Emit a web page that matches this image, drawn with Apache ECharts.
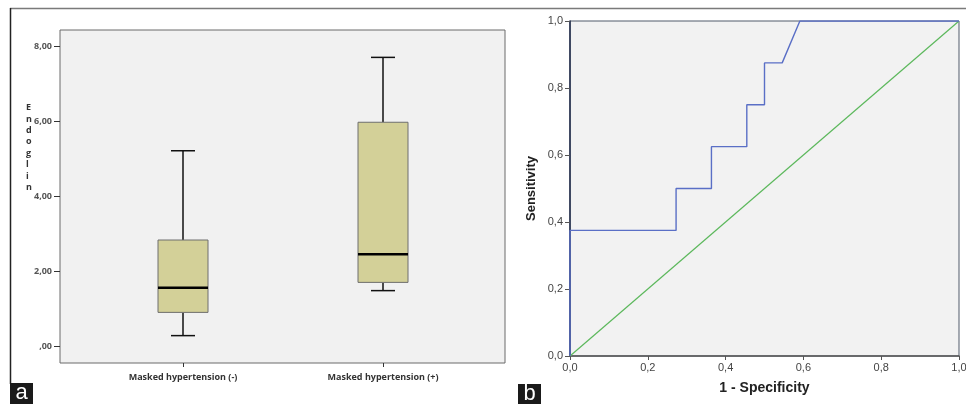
<!DOCTYPE html>
<html>
<head>
<meta charset="utf-8">
<script src="https://cdn.jsdelivr.net/npm/echarts@6/dist/echarts.min.js"></script>
<style>
  html, body { margin: 0; padding: 0; background: #ffffff; }
  #chart { width: 966px; height: 404px; }
</style>
</head>
<body>
<div id="chart"></div>
<script>
// panel a : Endoglin boxplot
var groups = ['Masked hypertension (-)', 'Masked hypertension (+)'];
var whiskerLow = [0.29, 1.49];
var quart1 = [0.91, 1.71];
var medians = [1.57, 2.46];
var quart3 = [2.84, 5.98];
var whiskerHigh = [5.22, 7.71];
var endoglinTicks = [0, 2, 4, 6, 8];

// panel b : ROC curve
var rocFpr = [0, 0, 0.2727, 0.2727, 0.3636, 0.3636, 0.4545, 0.4545, 0.5, 0.5, 0.5455, 0.5909, 1];
var rocTpr = [0, 0.375, 0.375, 0.5, 0.5, 0.625, 0.625, 0.75, 0.75, 0.875, 0.875, 1, 1];
var refLine = [0, 1];

var chart = echarts.init(document.getElementById('chart'));

var boxData = groups.map(function (g, i) {
  return [i, whiskerLow[i], quart1[i], medians[i], quart3[i], whiskerHigh[i]];
});
var rocData = rocFpr.map(function (x, i) { return [x, rocTpr[i]]; });
var diagData = refLine.map(function (v) { return [v, v]; });

function renderBox(params, api) {
  var idx = api.value(0);
  var lo = api.coord([idx, api.value(1)]);
  var q1 = api.coord([idx, api.value(2)]);
  var med = api.coord([idx, api.value(3)]);
  var q3 = api.coord([idx, api.value(4)]);
  var hi = api.coord([idx, api.value(5)]);
  var half = api.size([1, 0])[0] * 0.125;
  var cap = half * 0.48;
  var x = lo[0];
  var black = { stroke: '#111111', lineWidth: 1.5 };
  return {
    type: 'group',
    children: [
      { type: 'line', shape: { x1: x, y1: hi[1], x2: x, y2: q3[1] }, style: black },
      { type: 'line', shape: { x1: x, y1: q1[1], x2: x, y2: lo[1] }, style: black },
      { type: 'line', shape: { x1: x - cap, y1: hi[1], x2: x + cap, y2: hi[1] }, style: black },
      { type: 'line', shape: { x1: x - cap, y1: lo[1], x2: x + cap, y2: lo[1] }, style: black },
      { type: 'rect', shape: { x: x - half, y: q3[1], width: half * 2, height: q1[1] - q3[1] },
        style: { fill: '#d3d098', stroke: '#6e6e6e', lineWidth: 1 } },
      { type: 'line', shape: { x1: x - half, y1: med[1], x2: x + half, y2: med[1] },
        style: { stroke: '#000000', lineWidth: 2.5 } }
    ]
  };
}

function commaFix(v, d) {
  var s = v.toFixed(d).replace('.', ',');
  if (d === 2 && v === 0) s = ',00';
  return s;
}

var option = {
  animation: false,
  title: {
    text: 'E\nn\nd\no\ng\nl\ni\nn',
    left: 21,
    top: 97,
    textStyle: { fontFamily: 'Open Sans', fontSize: 9, fontWeight: 'bold', color: '#333', lineHeight: 11.4 }
  },
  grid: [
    // frame of panel a
    { left: 60, top: 30, width: 445, height: 333, show: true, outerBoundsMode: 'none',
      backgroundColor: '#f1f1f1', borderColor: '#6a6a6a', borderWidth: 1 },
    // boxplot area
    { left: 83, top: 30, width: 400, height: 333, outerBoundsMode: 'none' },
    // ROC area
    { left: 570, top: 21, width: 389, height: 335, show: true, outerBoundsMode: 'none',
      backgroundColor: '#f2f2f2', borderColor: '#505a6a', borderWidth: 1 }
  ],
  xAxis: [
    {
      gridIndex: 1,
      type: 'category',
      data: groups,
      axisLine: { show: false, onZero: false },
      axisTick: { show: true, alignWithLabel: true, length: 4, lineStyle: { color: '#333' } },
      axisLabel: { fontFamily: 'Open Sans', fontSize: 9, fontWeight: 'bold', color: '#333', margin: 10 }
    },
    {
      gridIndex: 2,
      type: 'value',
      min: 0, max: 1, interval: 0.2,
      name: '1 - Specificity',
      nameLocation: 'middle',
      nameGap: 25,
      nameTextStyle: { fontFamily: 'Liberation Sans', fontSize: 14, fontWeight: 'bold', color: '#222' },
      splitLine: { show: false },
      axisLine: { lineStyle: { color: '#555', width: 1.5 } },
      axisTick: { length: 4, lineStyle: { color: '#555' } },
      axisLabel: { fontFamily: 'Liberation Sans', fontSize: 11, color: '#444', margin: 6,
        formatter: function (v) { return commaFix(v, 1); } }
    }
  ],
  yAxis: [
    {
      gridIndex: 1,
      type: 'value',
      min: -0.44, max: 8.44,
      offset: 23,
      splitLine: { show: false },
      axisLine: { show: false },
      axisTick: { show: true, length: 6, customValues: endoglinTicks, lineStyle: { color: '#333' } },
      axisLabel: { customValues: endoglinTicks, fontFamily: 'Open Sans', fontSize: 9, fontWeight: 'bold',
        color: '#555', margin: 8, formatter: function (v) { return commaFix(v, 2); } }
    },
    {
      gridIndex: 2,
      type: 'value',
      min: 0, max: 1, interval: 0.2,
      name: 'Sensitivity',
      nameLocation: 'middle',
      nameGap: 32,
      nameTextStyle: { fontFamily: 'Liberation Sans', fontSize: 13, fontWeight: 'bold', color: '#222' },
      splitLine: { show: false },
      axisLine: { lineStyle: { color: '#1f2a48', width: 1.5 } },
      axisTick: { length: 5, lineStyle: { color: '#555' } },
      axisLabel: { fontFamily: 'Liberation Sans', fontSize: 11, color: '#444', margin: 7,
        formatter: function (v) { return commaFix(v, 1); } }
    }
  ],
  series: [
    {
      name: 'Endoglin',
      type: 'custom',
      xAxisIndex: 0,
      yAxisIndex: 0,
      renderItem: renderBox,
      encode: { x: 0, y: [1, 2, 3, 4, 5] },
      data: boxData
    },
    {
      name: 'Reference',
      type: 'line',
      xAxisIndex: 1,
      yAxisIndex: 1,
      showSymbol: false,
      lineStyle: { color: '#5cb85c', width: 1.2 },
      data: diagData
    },
    {
      name: 'ROC',
      type: 'line',
      xAxisIndex: 1,
      yAxisIndex: 1,
      showSymbol: false,
      lineStyle: { color: '#5a6fc6', width: 1.4 },
      data: rocData
    }
  ],
  graphic: [
    { type: 'line', shape: { x1: 10, y1: 8.5, x2: 966, y2: 8.5 }, style: { stroke: '#7a7a7a', lineWidth: 1.5 } },
    { type: 'line', shape: { x1: 10.5, y1: 8, x2: 10.5, y2: 384 }, style: { stroke: '#222', lineWidth: 1.5 } },
    { type: 'group', left: 10, top: 382, children: [
      { type: 'rect', shape: { x: 0, y: 0, width: 23, height: 22 }, style: { fill: '#1a1a1a' } },
      { type: 'text', x: 11.5, y: 10, style: { text: 'a', fill: '#fff', font: '22px "Liberation Sans"',
        align: 'center', verticalAlign: 'middle' } }
    ] },
    { type: 'group', left: 518, top: 383, children: [
      { type: 'rect', shape: { x: 0, y: 0, width: 23, height: 21 }, style: { fill: '#1a1a1a' } },
      { type: 'text', x: 11.5, y: 10, style: { text: 'b', fill: '#fff', font: '22px "Liberation Sans"',
        align: 'center', verticalAlign: 'middle' } }
    ] }
  ]
};

chart.setOption(option);
window.addEventListener('resize', function () {
  chart.resize();
});
</script>
</body>
</html>
